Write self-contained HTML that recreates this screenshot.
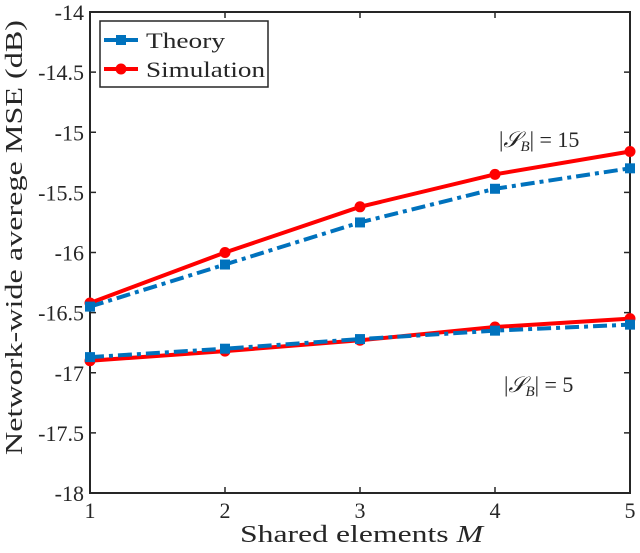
<!DOCTYPE html>
<html><head><meta charset="utf-8"><style>
body{margin:0;background:#fff}
svg text{font-family:"Liberation Serif",serif;fill:#262626}
</style></head><body>
<svg id="chart" width="640" height="548">
<g id="g"></g>
<text x="499" y="147" font-size="22">|<tspan font-style="italic">𝒮</tspan><tspan font-size="15" dy="4" font-style="italic">B</tspan><tspan dy="-4">| = 15</tspan></text>
<text x="504" y="392" font-size="22">|<tspan font-style="italic">𝒮</tspan><tspan font-size="15" dy="4" font-style="italic">B</tspan><tspan dy="-4">| = 5</tspan></text>
<text x="240" y="542" font-size="24" textLength="243" lengthAdjust="spacingAndGlyphs">Shared elements <tspan font-style="italic">M</tspan></text>
<text transform="translate(22,455) rotate(-90)" font-size="24" textLength="435" lengthAdjust="spacingAndGlyphs">Network-wide averege MSE (dB)</text>
</svg>
<script>
const categories=[1,2,3,4,5];
const yTicks=[-14,-14.5,-15,-15.5,-16,-16.5,-17,-17.5,-18];
const yTickLabels=["-14","-14.5","-15","-15.5","-16","-16.5","-17","-17.5","-18"];
const theory15=[-16.45,-16.1,-15.75,-15.47,-15.3];
const sim15=[-16.42,-16.0,-15.62,-15.35,-15.16];
const theory5=[-16.87,-16.8,-16.72,-16.65,-16.6];
const sim5=[-16.9,-16.82,-16.73,-16.62,-16.55];

const L=90,R=630,T=12,B=493;
const x=v=>L+(v-1)/(4)*(R-L);
const y=v=>T+(-14-v)/4*(B-T);
const NS="http://www.w3.org/2000/svg";
const g=document.getElementById('g');
function el(t,a,p){const e=document.createElementNS(NS,t);for(const k in a)e.setAttribute(k,a[k]);(p||g).appendChild(e);return e;}

const box=el('rect',{x:L,y:T,width:R-L,height:B-T,fill:'none',stroke:'#262626','stroke-width':2});


yTicks.forEach((v,i)=>{
  const t=el('line',{x1:L,x2:L+6,y1:y(v),y2:y(v),stroke:'#262626','stroke-width':1.5});
  
  
  el('line',{x1:R,x2:R-6,y1:y(v),y2:y(v),stroke:'#262626','stroke-width':1.5});
  const tx=el('text',{x:L-6,y:y(v)+8,'text-anchor':'end','font-size':22});
  tx.textContent=yTickLabels[i];
  
  
});
categories.forEach(c=>{
  const t=el('line',{x1:x(c),x2:x(c),y1:B,y2:B-6,stroke:'#262626','stroke-width':1.5});
  
  
  el('line',{x1:x(c),x2:x(c),y1:T,y2:T+6,stroke:'#262626','stroke-width':1.5});
  const tx=el('text',{x:x(c),y:B+25,'text-anchor':'middle','font-size':22});
  tx.textContent=c;
  
  
});
function series(vals,color,dash,marker,name){
  const pts=vals.map((v,i)=>x(categories[i])+','+y(v)).join(' ');
  const pl=el('polyline',{points:pts,fill:'none',stroke:color,'stroke-width':4,'stroke-dasharray':dash||'none'});
  
  
  vals.forEach((v,i)=>{
    let m;
    if(marker==='sq') m=el('rect',{x:x(categories[i])-5,y:y(v)-5,width:10,height:10,fill:color});
    else m=el('circle',{cx:x(categories[i]),cy:y(v),r:5.5,fill:color});
    
    
  });
}
series(sim15,'#ff0000',null,'c','simulation-15-line');
series(theory15,'#0072bd','14 5 4 5','sq','theory-15-line');
series(sim5,'#ff0000',null,'c','simulation-5-line');
series(theory5,'#0072bd','14 5 4 5','sq','theory-5-line');

const lg=el('g',{});


el('rect',{x:100,y:21,width:168,height:66,fill:'#fff',stroke:'#262626','stroke-width':1.5},lg);
el('line',{x1:104,x2:138,y1:40,y2:40,stroke:'#0072bd','stroke-width':4},lg);
el('rect',{x:116,y:35,width:10,height:10,fill:'#0072bd'},lg);
el('line',{x1:104,x2:138,y1:69,y2:69,stroke:'#ff0000','stroke-width':4},lg);
el('circle',{cx:121,cy:69,r:5.5,fill:'#ff0000'},lg);
const l1=el('text',{x:146,y:48,'font-size':22,textLength:79,lengthAdjust:'spacingAndGlyphs'},lg);l1.textContent='Theory';


const l2=el('text',{x:146,y:77,'font-size':22,textLength:119,lengthAdjust:'spacingAndGlyphs'},lg);l2.textContent='Simulation';


</script>
</body></html>
